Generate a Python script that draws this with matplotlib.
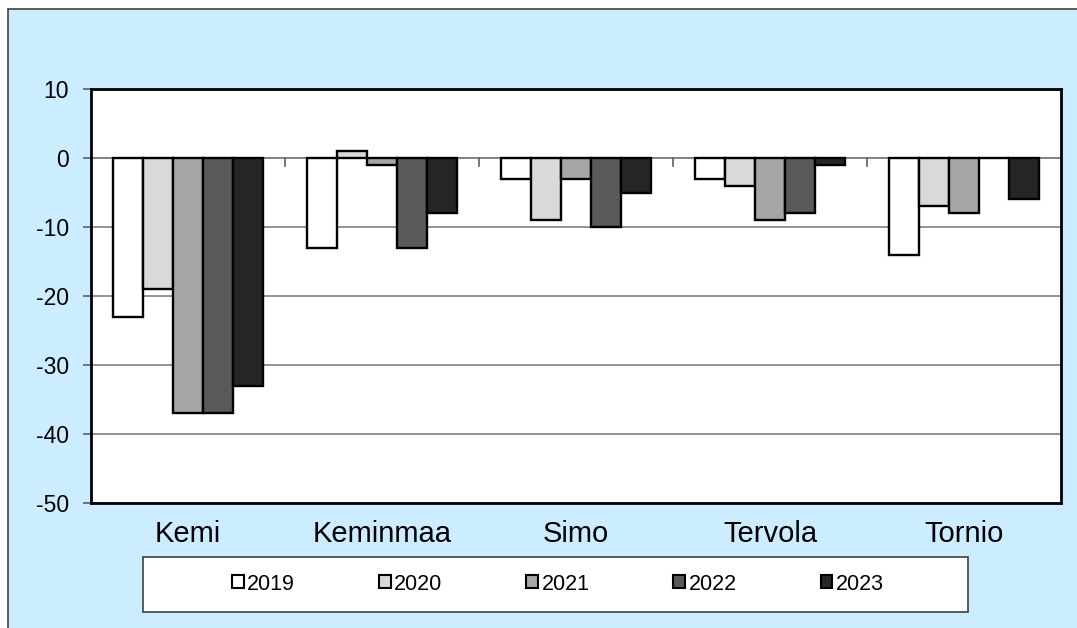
import numpy as np
import matplotlib
matplotlib.use("Agg")
import matplotlib.pyplot as plt
from matplotlib.patches import Rectangle, Patch

plt.rcParams['font.family'] = ['Liberation Sans', 'DejaVu Sans']
plt.rcParams['axes.unicode_minus'] = False

# data
towns = ['Kemi', 'Keminmaa', 'Simo', 'Tervola', 'Tornio']
years = ['2019', '2020', '2021', '2022', '2023']
v2019 = [-23, -13, -3, -3, -14]
v2020 = [-19, 1, -9, -4, -7]
v2021 = [-37, -1, -3, -9, -8]
v2022 = [-37, -13, -10, -8, 0]
v2023 = [-33, -8, -5, -1, -6]
series = [v2019, v2020, v2021, v2022, v2023]
colors = ['#FFFFFF', '#D9D9D9', '#A6A6A6', '#595959', '#262626']

W, H = 1077, 628
fig = plt.figure(figsize=(W / 100, H / 100), dpi=100)
fig.patch.set_facecolor('white')

# light blue chart area with thin frame (runs off the right / bottom edge)
fig.add_artist(Rectangle((8 / W, -0.1), 1.2, 1 - 9 / H + 0.1, transform=fig.transFigure,
                         facecolor='#CCECFF', edgecolor='#404040', lw=1.2, zorder=0))

ax = fig.add_axes([91 / W, 1 - 503 / H, (1061 - 91) / W, (503 - 89) / H])
ax.set_facecolor('white')

x = np.arange(len(towns))
bw = 0.155
for i, (vals, c) in enumerate(zip(series, colors)):
    ax.bar(x + (i - 2) * bw, vals, bw, color=c, edgecolor='black', linewidth=1.7, zorder=3)

ax.set_xlim(-0.5, 4.5)
ax.set_ylim(-50, 10)
ax.set_yticks(np.arange(-50, 11, 10))
ax.yaxis.grid(True, color='#808080', lw=1.2, zorder=0)
ax.axhline(0, color='#808080', lw=1.2, zorder=2)

# small tick marks between the groups, hanging from the zero line
for b in x[:-1] + 0.5:
    ax.plot([b, b], [0, -1.1], color='#606060', lw=1.2, zorder=2)

ax.set_xticks(x)
ax.set_xticklabels(towns, fontsize=21)
ax.tick_params(axis='x', length=0, pad=12)
ax.tick_params(axis='y', labelsize=16.5, length=6, width=1.2, color='#606060', pad=10)

for s in ax.spines.values():
    s.set_color('black')
    s.set_linewidth(2)

# legend box drawn by hand, entries centred inside it
fig.add_artist(Rectangle((143 / W, 1 - 612 / H), (968 - 143) / W, (612 - 557) / H,
                         transform=fig.transFigure, facecolor='white',
                         edgecolor='#404040', lw=1.2, zorder=1))
handles = [Patch(facecolor=c, edgecolor='black', lw=1.5) for c in colors]
fig.legend(handles, years, loc='center', bbox_to_anchor=(558 / W, 1 - 584 / H),
           ncol=5, frameon=False, fontsize=15.5, handlelength=0.55, handleheight=0.55,
           handletextpad=0.15, columnspacing=3.9)

fig.savefig('out.png', dpi=100)
